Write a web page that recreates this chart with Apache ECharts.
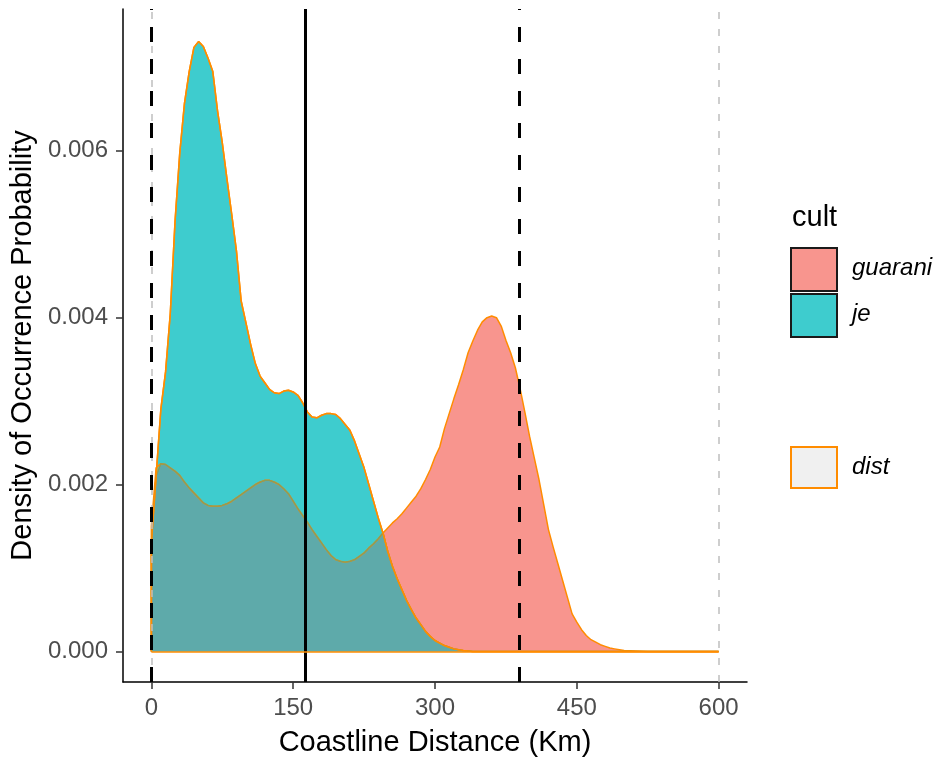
<!DOCTYPE html>
<html>
<head>
<meta charset="utf-8">
<script src="https://cdn.jsdelivr.net/npm/echarts@6/dist/echarts.min.js"></script>
<style>
  html, body { margin: 0; padding: 0; background: #fff; }
  #chart { width: 940px; height: 758px; }
</style>
</head>
<body>
<div id="chart"></div>
<script>
// distance grid (km)
var distKm = [0, 5, 10, 15, 20, 25, 30, 35, 40, 45, 50, 55, 60, 65, 70, 75, 80, 85, 90, 95,
  100, 105, 110, 115, 120, 125, 130, 135, 140, 145, 150, 155, 160, 165, 170, 175, 180, 185, 190, 195,
  200, 205, 210, 215, 220, 225, 230, 235, 240, 245, 250, 255, 260, 265, 270, 275, 280, 285, 290, 295,
  300, 305, 310, 315, 320, 325, 330, 335, 340, 345, 350, 355, 360, 365, 370, 375, 380, 385, 390, 395,
  400, 405, 410, 415, 420, 425, 430, 435, 440, 445, 450, 455, 460, 465, 470, 475, 480, 485, 490, 495,
  500, 525, 550, 575, 600];

// densities, in units of 0.001
var jeDens = [1.3, 2.1, 2.9, 3.35, 4.05, 5.15, 5.97, 6.57, 6.95, 7.24, 7.31, 7.25, 7.11, 6.95, 6.48, 6.1, 5.66, 5.24, 4.8, 4.2,
  3.94, 3.68, 3.45, 3.3, 3.22, 3.14, 3.1, 3.09, 3.12, 3.13, 3.11, 3.07, 2.98, 2.87, 2.81, 2.8, 2.83, 2.85, 2.85, 2.84,
  2.79, 2.72, 2.65, 2.52, 2.36, 2.2, 2.0, 1.8, 1.6, 1.42, 1.2, 1.02, 0.87, 0.74, 0.61, 0.5, 0.4, 0.32, 0.24, 0.18,
  0.13, 0.1, 0.07, 0.05, 0.03, 0.02, 0.01, 0.005, 0, 0, 0, 0, 0, 0, 0, 0, 0, 0, 0, 0,
  0, 0, 0, 0, 0, 0, 0, 0, 0, 0, 0, 0, 0, 0, 0, 0, 0, 0, 0, 0,
  0, 0, 0, 0, 0];

var guaraniDens = [1.5, 2.2, 2.25, 2.24, 2.2, 2.16, 2.11, 2.03, 1.96, 1.9, 1.84, 1.78, 1.75, 1.74, 1.74, 1.75, 1.77, 1.8, 1.84, 1.88,
  1.92, 1.96, 2.0, 2.03, 2.05, 2.05, 2.03, 2.0, 1.95, 1.89, 1.8, 1.71, 1.63, 1.55, 1.46, 1.38, 1.3, 1.22, 1.15, 1.1,
  1.08, 1.07, 1.08, 1.1, 1.14, 1.18, 1.24, 1.29, 1.35, 1.42, 1.48, 1.54, 1.59, 1.65, 1.72, 1.79, 1.86, 1.95, 2.06, 2.18,
  2.33, 2.45, 2.67, 2.85, 3.03, 3.2, 3.38, 3.58, 3.72, 3.85, 3.95, 4.0, 4.02, 4.0, 3.9, 3.73, 3.58, 3.4, 3.15, 2.87,
  2.58, 2.32, 2.06, 1.76, 1.46, 1.25, 1.05, 0.85, 0.65, 0.45, 0.35, 0.26, 0.19, 0.14, 0.11, 0.08, 0.06, 0.04, 0.03, 0.02,
  0.01, 0, 0, 0, 0];

var xTicks = [0, 150, 300, 450, 600];
var yTicks = [0, 0.002, 0.004, 0.006];

// reference lines (km)
var greyLines = [0, 600];
var dashedLines = [0, 388.7];
var solidLines = [162.7];

var ORANGE = '#FF8C00';
var FONT = 'Liberation Sans';

function pairs(arr) {
  var out = [[distKm[0], 0]];
  arr.forEach(function (v, i) { out.push([distKm[i], v / 1000]); });
  return out;
}
var overlapDens = jeDens.map(function (v, i) { return Math.min(v, guaraniDens[i]); });

var myChart = echarts.init(document.getElementById('chart'));

var refLines = [];
greyLines.forEach(function (x) {
  refLines.push({xAxis: x, lineStyle: {color: '#BEBEBE', width: 1.5, type: [7, 10]}});
});
dashedLines.forEach(function (x) {
  refLines.push({xAxis: x, lineStyle: {color: '#000', width: 3, type: [15, 17]}});
});
solidLines.forEach(function (x) {
  refLines.push({xAxis: x, lineStyle: {color: '#000', width: 3, type: 'solid'}});
});

myChart.setOption({
  animation: false,
  grid: {left: 123, right: 193, top: 9, bottom: 76, outerBoundsMode: 'none', containLabel: false},
  xAxis: {
    type: 'value',
    min: -30,
    max: 630,
    name: 'Coastline Distance (Km)',
    nameLocation: 'middle',
    nameGap: 46,
    nameTextStyle: {fontSize: 29, color: '#000', fontFamily: FONT},
    axisLine: {onZero: false, lineStyle: {color: '#000', width: 1.5}},
    axisTick: {customValues: xTicks, length: 7, lineStyle: {color: '#333', width: 1.5}},
    axisLabel: {customValues: xTicks, color: '#4D4D4D', fontSize: 24, margin: 14, fontFamily: FONT},
    splitLine: {show: false}
  },
  yAxis: {
    type: 'value',
    min: -0.000367,
    max: 0.0077,
    name: 'Density of Occurrence Probability',
    nameLocation: 'middle',
    nameGap: 86,
    nameTextStyle: {fontSize: 29, color: '#000', fontFamily: FONT},
    axisLine: {onZero: false, lineStyle: {color: '#000', width: 1.5}},
    axisTick: {customValues: yTicks, length: 7, lineStyle: {color: '#333', width: 1.5}},
    axisLabel: {
      customValues: yTicks, color: '#4D4D4D', fontSize: 24, margin: 15, fontFamily: FONT,
      formatter: function (v) { return v.toFixed(3); }
    },
    splitLine: {show: false}
  },
  series: [
    {
      name: 'guarani', type: 'line', data: pairs(guaraniDens), showSymbol: false,
      lineStyle: {color: ORANGE, width: 1.5},
      areaStyle: {color: '#F8958E', opacity: 1}
    },
    {
      name: 'je', type: 'line', data: pairs(jeDens), showSymbol: false,
      lineStyle: {color: ORANGE, width: 1.5},
      areaStyle: {color: '#3ECCCE', opacity: 1}
    },
    {
      name: 'overlap', type: 'line', data: pairs(overlapDens), showSymbol: false,
      lineStyle: {color: '#8E9C58', width: 1.3},
      areaStyle: {color: '#5EAAAA', opacity: 1}
    },
    {
      name: 'je outline', type: 'line', data: pairs(jeDens), showSymbol: false,
      lineStyle: {color: ORANGE, width: 1.5}
    },
    {
      name: 'refs', type: 'line', data: [], z: 5,
      markLine: {
        silent: true, symbol: 'none', label: {show: false}, animation: false,
        data: refLines.concat([
          [{coord: [distKm[0], 0], lineStyle: {color: ORANGE, width: 1.5, type: 'solid'}},
           {coord: [distKm[distKm.length - 1], 0]}]
        ])
      }
    }
  ],
  graphic: [
    {type: 'text', left: 792, top: 203, style: {text: 'cult', fontSize: 29, fill: '#000', fontFamily: FONT}},
    {type: 'rect', shape: {x: 791, y: 248, width: 46, height: 43},
      style: {fill: '#F8958E', stroke: '#1a1a1a', lineWidth: 2}},
    {type: 'rect', shape: {x: 791, y: 294, width: 46, height: 43},
      style: {fill: '#3ECCCE', stroke: '#1a1a1a', lineWidth: 2}},
    {type: 'text', left: 852, top: 256, style: {text: 'guarani', fontSize: 24, fontStyle: 'italic', fill: '#000', fontFamily: FONT}},
    {type: 'text', left: 852, top: 302, style: {text: 'je', fontSize: 24, fontStyle: 'italic', fill: '#000', fontFamily: FONT}},
    {type: 'rect', shape: {x: 791, y: 447, width: 46, height: 41},
      style: {fill: '#F0F0F0', stroke: ORANGE, lineWidth: 2}},
    {type: 'text', left: 852, top: 455, style: {text: 'dist', fontSize: 24, fontStyle: 'italic', fill: '#000', fontFamily: FONT}}
  ]
});
</script>
</body>
</html>
